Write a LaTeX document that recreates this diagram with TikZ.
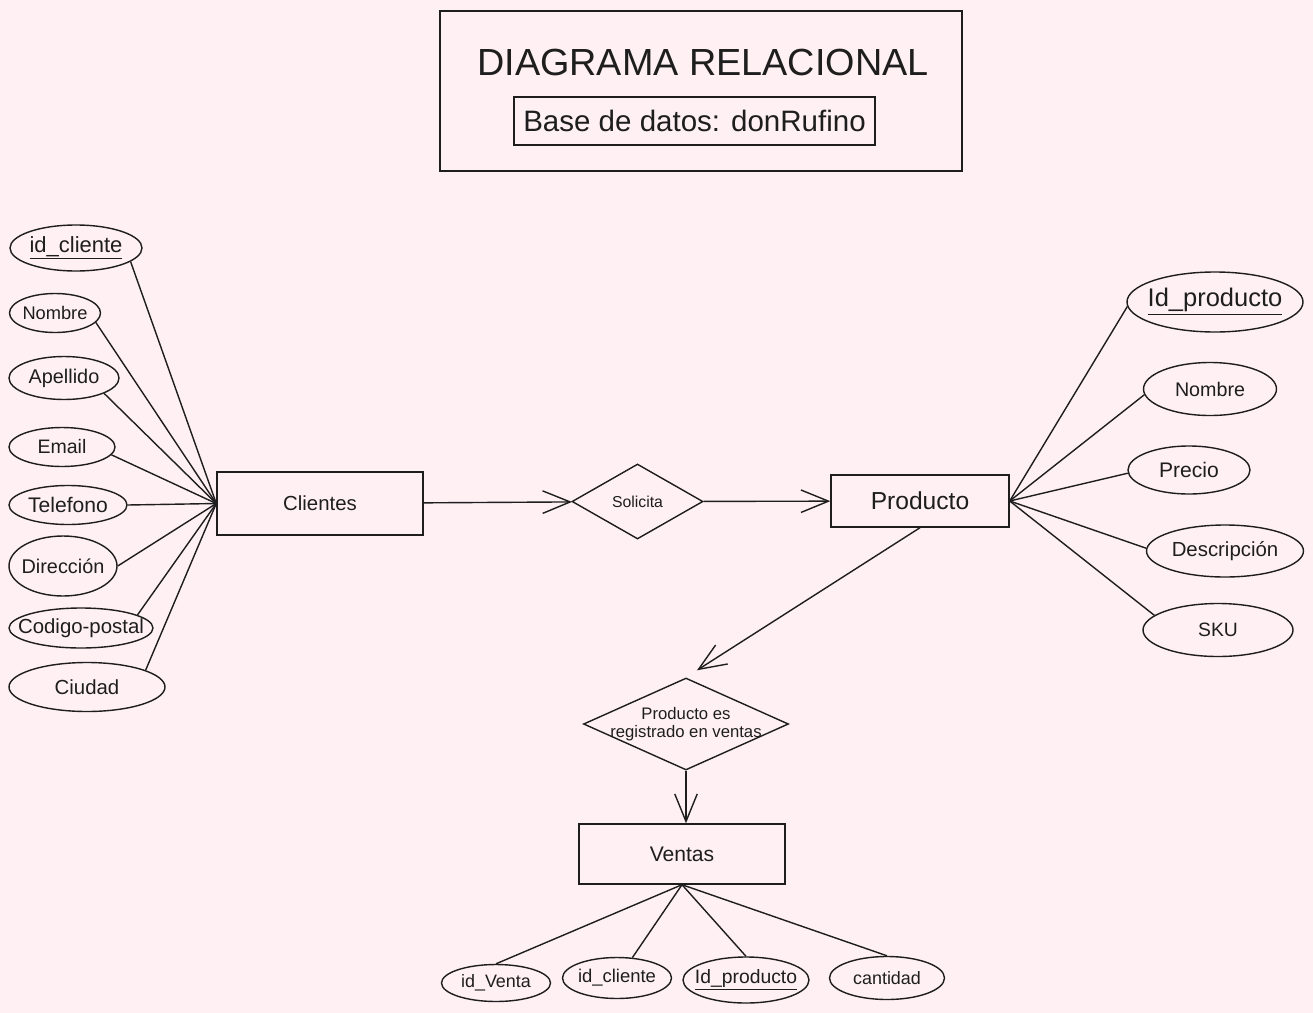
\documentclass[tikz,border=0pt]{standalone}
\usepackage{fontspec}
\setsansfont{Liberation Sans}
\usetikzlibrary{arrows.meta, shapes.geometric}
\definecolor{cink}{HTML}{1E1E1E}
\definecolor{cbg}{HTML}{FFF0F4}
\tikzset{
  every picture/.style={font=\sffamily, line width=0.8pt, color=cink},
  entity/.style={draw, inner sep=0pt, font=\sffamily\fontsize{#1}{#1}\selectfont},
  entity/.default=11.6,
  attr/.style={draw, ellipse, inner xsep=-9pt, inner ysep=0pt, font=\sffamily\fontsize{#1}{#1}\selectfont},
  attr/.default=11.4,
  rel/.style={draw, diamond, aspect=2.2, inner sep=-4pt, align=center, font=\sffamily\fontsize{9.5}{10.2}\selectfont},
  arrow/.style={-{Straight Barb[length=5.5mm, width=4.5mm]}},
}
\begin{document}
\begin{tikzpicture}
  \useasboundingbox (0,0) rectangle (26.26,-20.26);
  \fill[cbg] (0,0) rectangle (26.26,-20.26);
  % title
  \node[draw, minimum width=10.44cm, minimum height=3.2cm] (tf) at (14.02,-1.82) {};
  \node[font=\sffamily\fontsize{21.5}{26}\selectfont] (tt) at (14.06,-1.24) {DIAGRAMA RELACIONAL};
  \node[draw, minimum width=7.22cm, minimum height=0.96cm, inner sep=0pt, font=\sffamily\fontsize{16.8}{20}\selectfont] (ts) at (13.89,-2.42) {Base de datos: donRufino};
  % entities and relations
  \node[entity, minimum width=4.12cm, minimum height=1.26cm] (cli) at (6.40,-10.07) {Clientes};
  \node[rel, minimum width=2.62cm, minimum height=1.5cm, font=\sffamily\fontsize{9}{10}\selectfont] (sol) at (12.75,-10.03) {Solicita};
  \node[entity=14, minimum width=3.56cm, minimum height=1.04cm] (prod) at (18.40,-10.02) {Producto};
  \node[rel, minimum width=4.1cm, minimum height=1.84cm] (reg) at (13.72,-14.48) {Producto es\\registrado en ventas};
  \node[entity=12, minimum width=4.12cm, minimum height=1.2cm] (ven) at (13.64,-17.08) {Ventas};
  \draw[arrow] (cli) -- (sol); \draw[arrow] (sol) -- (prod);
  \draw[arrow, shorten >=0.26cm] (prod.south) -- (reg.north);
  \draw[arrow] (reg.south) -- (reg.south |- ven.north);
  % Clientes
  \node[attr=12.5, minimum width=2.64cm, minimum height=0.92cm] (c1) at (1.52,-4.96) {\underline{id\_cliente}};
  \node[attr=10.4, minimum width=1.82cm, minimum height=0.78cm] (c2) at (1.10,-6.26) {Nombre};
  \node[attr=11.3, minimum width=2.2cm, minimum height=0.86cm] (c3) at (1.28,-7.56) {Apellido};
  \node[attr=11.1, minimum width=2.12cm, minimum height=0.78cm] (c4) at (1.24,-8.94) {Email};
  \node[attr=12, minimum width=2.36cm, minimum height=0.78cm] (c5) at (1.36,-10.10) {Telefono};
  \node[attr=11.3, minimum width=2.16cm, minimum height=1.2cm] (c6) at (1.26,-11.32) {Dirección};
  \node[attr=11.6, minimum width=2.88cm, minimum height=0.8cm] (c7) at (1.62,-12.56) {Codigo-postal};
  \node[attr=11.6, minimum width=3.12cm, minimum height=0.98cm] (c8) at (1.74,-13.74) {Ciudad};
  \draw (cli.west) -- (c1.-14); \draw (cli.west) -- (c2.-13);
  \draw (cli.west) -- (c3.-21); \draw (cli.west) -- (c4.-9);
  \draw (cli.west) -- (c5.0); \draw (cli.west) -- (c6.0);
  \draw (cli.west) -- (c7.13); \draw (cli.west) -- (c8.16);
  % Producto
  \node[attr=14.5, minimum width=3.52cm, minimum height=1.2cm] (p1) at (24.30,-6.04) {\underline{Id\_producto}};
  \node[attr=11.2, minimum width=2.66cm, minimum height=1.06cm] (p2) at (24.20,-7.78) {Nombre};
  \node[attr=12, minimum width=2.44cm, minimum height=0.96cm] (p3) at (23.78,-9.40) {Precio};
  \node[attr=11.6, minimum width=3.14cm, minimum height=1.04cm] (p4) at (24.50,-11.02) {Descripción};
  \node[attr=11, minimum width=3.0cm, minimum height=1.06cm] (p5) at (24.36,-12.60) {SKU};
  \draw (prod.east) -- (p1.183); \draw (prod.east) -- (p2.185);
  \draw (prod.east) -- (p3.183); \draw (prod.east) -- (p4.178);
  \draw (prod.east) -- (p5.167);
  % Ventas
  \node[attr=10.2, minimum width=2.18cm, minimum height=0.74cm] (v1) at (9.92,-19.66) {id\_Venta};
  \node[attr=10.5, minimum width=2.18cm, minimum height=0.82cm] (v2) at (12.34,-19.56) {id\_cliente};
  \node[attr=11, minimum width=2.52cm, minimum height=0.92cm] (v3) at (14.92,-19.60) {\underline{Id\_producto}};
  \node[attr=10.2, minimum width=2.3cm, minimum height=0.86cm] (v4) at (17.74,-19.56) {cantidad};
  \draw (ven.south) -- (v1.north); \draw (ven.south) -- (v2.53);
  \draw (ven.south) -- (v3.north); \draw (ven.south) -- (v4.north);
\end{tikzpicture}
\end{document}
